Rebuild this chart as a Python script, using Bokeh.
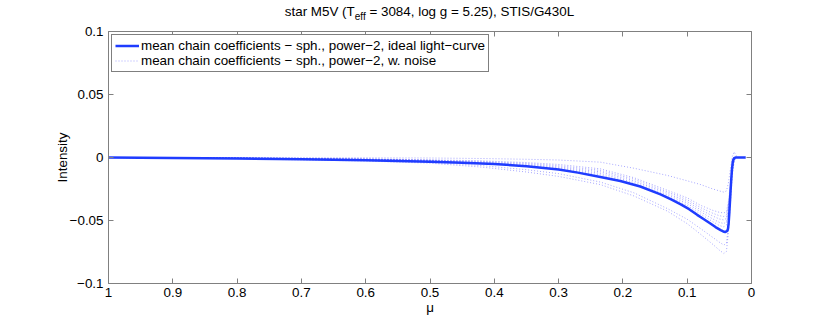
from bokeh.plotting import figure
from bokeh.layouts import column
from bokeh.models import Range1d, LinearAxis, FixedTicker, Legend, LegendItem, CustomJSTickFormatter, Div
from bokeh.embed import file_html
from bokeh.resources import INLINE

# ---- data ----
mu_main = [1.0, 0.9, 0.8, 0.7, 0.6, 0.5, 0.45, 0.4, 0.35, 0.3, 0.27, 0.235, 0.204,
           0.173, 0.1415, 0.125, 0.11, 0.097, 0.0845, 0.074, 0.064, 0.056, 0.048,
           0.044, 0.041, 0.038, 0.0365, 0.0355, 0.0345, 0.0335, 0.0325, 0.0315,
           0.0305, 0.0295, 0.0285, 0.027, 0.025, 0.02, 0.015, 0.009]
intensity_ideal = [0.0, -0.0003, -0.0008, -0.0014, -0.0022, -0.0033, -0.0041, -0.0052,
                   -0.0069, -0.0095, -0.0120, -0.0155, -0.0186, -0.0230, -0.0292,
                   -0.0333, -0.0372, -0.0410, -0.0455, -0.0490, -0.0524, -0.0552,
                   -0.0576, -0.0587, -0.0591, -0.0585, -0.0565, -0.0520, -0.0440,
                   -0.0350, -0.0260, -0.0175, -0.0100, -0.0050, -0.0020, -0.0005,
                   0.0, 0.0, 0.0, 0.0]

mu_noise = [1.0, 0.8, 0.6, 0.5, 0.42, 0.35, 0.3, 0.235, 0.183, 0.131, 0.1, 0.079, 0.06,
            0.05, 0.043, 0.039, 0.036, 0.033, 0.03, 0.027, 0.024, 0.02, 0.012]
noise_1 = [0.0, 0.0, -0.0002, -0.0004, -0.0008, -0.0014, -0.0020, -0.0037, -0.0085,
           -0.0142, -0.0185, -0.0215, -0.0250, -0.0265, -0.0275, -0.0265, -0.0205,
           -0.0100, 0.0005, 0.0045, 0.0015, 0.0, 0.0]
noise_2 = [0.0, -0.0010, -0.0028, -0.0045, -0.0076, -0.0115, -0.0150, -0.0215, -0.0305,
           -0.0425, -0.0525, -0.0610, -0.0690, -0.0735, -0.0762, -0.0745, -0.0600,
           -0.0380, -0.0150, -0.0030, 0.0, 0.0, 0.0]
noise_3 = [0.0, -0.0008, -0.0024, -0.0038, -0.0064, -0.0097, -0.0128, -0.0195, -0.0280,
           -0.0405, -0.0490, -0.0565, -0.0635, -0.0672, -0.0695, -0.0680, -0.0550,
           -0.0345, -0.0130, -0.0025, 0.0, 0.0, 0.0]
noise_4 = [0.0, -0.0003, -0.0010, -0.0018, -0.0026, -0.0040, -0.0055, -0.0090, -0.0160,
           -0.0260, -0.0320, -0.0380, -0.0420, -0.0435, -0.0440, -0.0430, -0.0350,
           -0.0220, -0.0080, -0.0015, 0.0, 0.0, 0.0]
noise_5 = [0.0, -0.0004, -0.0012, -0.0021, -0.0031, -0.0047, -0.0065, -0.0102, -0.0172,
           -0.0272, -0.0335, -0.0398, -0.0443, -0.0462, -0.0468, -0.0456, -0.0370,
           -0.0235, -0.0085, -0.0015, 0.0, 0.0, 0.0]
noise_6 = [0.0, -0.0004, -0.0013, -0.0023, -0.0036, -0.0054, -0.0074, -0.0114, -0.0185,
           -0.0284, -0.0350, -0.0415, -0.0465, -0.0488, -0.0496, -0.0483, -0.0392,
           -0.0250, -0.0090, -0.0018, 0.0, 0.0, 0.0]
noise_7 = [0.0, -0.0005, -0.0015, -0.0025, -0.0041, -0.0061, -0.0082, -0.0126, -0.0198,
           -0.0296, -0.0365, -0.0432, -0.0488, -0.0515, -0.0524, -0.0510, -0.0415,
           -0.0265, -0.0095, -0.0018, 0.0, 0.0, 0.0]
noise_8 = [0.0, -0.0005, -0.0016, -0.0027, -0.0046, -0.0068, -0.0090, -0.0138, -0.0210,
           -0.0308, -0.0380, -0.0450, -0.0510, -0.0540, -0.0550, -0.0536, -0.0435,
           -0.0280, -0.0100, -0.0020, 0.0, 0.0, 0.0]

x_ticks = [1.0, 0.9, 0.8, 0.7, 0.6, 0.5, 0.4, 0.3, 0.2, 0.1, 0.0]
x_tick_labels = ["1", "0.9", "0.8", "0.7", "0.6", "0.5", "0.4", "0.3", "0.2", "0.1", "0"]
y_ticks = [-0.1, -0.05, 0.0, 0.05, 0.1]
y_tick_labels = ["\u22120.1", "\u22120.05", "0", "0.05", "0.1"]

title_main = "star M5V (T"
title_sub = "eff"
title_rest = " = 3084, log g = 5.25), STIS/G430L"
label_ideal = "mean chain coefficients \u2212 sph., power\u22122, ideal light\u2212curve"
label_noise = "mean chain coefficients \u2212 sph., power\u22122, w. noise"

FONT = "Liberation Sans"
FS = "13.4px"
AXIS_COLOR = "#808080"
FRAME_W, FRAME_H = 643, 252
TITLE_H = 22

p = figure(frame_width=FRAME_W, frame_height=FRAME_H,
           x_range=Range1d(1, 0), y_range=Range1d(-0.1, 0.1),
           output_backend="svg", toolbar_location=None,
           min_border_left=108, min_border_right=71,
           min_border_top=31 - TITLE_H, min_border_bottom=34)
p.xgrid.visible = False
p.ygrid.visible = False
p.outline_line_color = None
p.background_fill_color = "white"
p.border_fill_color = "white"

def style_axis(ax, ticks, labels=None):
    ax.ticker = FixedTicker(ticks=ticks)
    ax.axis_line_color = AXIS_COLOR
    ax.major_tick_line_color = AXIS_COLOR
    ax.major_tick_in = 5
    ax.major_tick_out = 0
    ax.minor_tick_line_color = None
    ax.major_label_text_font = FONT
    ax.major_label_text_font_size = FS
    ax.major_label_text_color = "black"
    ax.axis_label_text_font = FONT
    ax.axis_label_text_font_size = FS
    ax.axis_label_text_font_style = "normal"
    ax.axis_label_text_color = "black"
    if labels is not None:
        ax.major_label_overrides = {t: l for t, l in zip(ticks, labels)}
    else:
        ax.formatter = CustomJSTickFormatter(code="return ''")
        ax.major_label_standoff = 0

xa = p.xaxis[0]
style_axis(xa, x_ticks, x_tick_labels)
xa.axis_label = "\u03bc"
xa.major_label_standoff = 4
xa.axis_label_standoff = 0

ya = p.yaxis[0]
style_axis(ya, y_ticks, y_tick_labels)
ya.axis_label = "Intensity"
ya.major_label_standoff = 5
ya.axis_label_standoff = -3

top = LinearAxis()
style_axis(top, x_ticks)
p.add_layout(top, "above")
right = LinearAxis()
style_axis(right, y_ticks)
p.add_layout(right, "right")

noise_renderers = []
for series in [noise_1, noise_2, noise_3, noise_4, noise_5, noise_6, noise_7, noise_8]:
    r = p.line(mu_noise, series, line_color="#0000ff", line_alpha=0.35,
               line_width=1, line_dash="1 2")
    noise_renderers.append(r)

main = p.line(mu_main, intensity_ideal, line_color="#1f3cff", line_width=2.5)

legend = Legend(items=[LegendItem(label=label_ideal, renderers=[main]),
                       LegendItem(label=label_noise, renderers=[noise_renderers[0]])],
                location="top_left")
legend.label_text_font = FONT
legend.label_text_font_size = FS
legend.label_text_color = "black"
legend.padding = 3
legend.spacing = 0
legend.margin = 3
legend.label_height = 13
legend.glyph_height = 13
legend.glyph_width = 24
legend.label_standoff = 2
legend.border_line_color = "black"
legend.border_line_width = 1
legend.background_fill_alpha = 1
p.add_layout(legend, "center")

# title (with a real subscript) as an HTML block centred over the plot frame
title_html = (f'<div style="width:{FRAME_W}px;font-family:\'{FONT}\';font-size:{FS};'
              f'color:black;text-align:center;line-height:16px;padding-top:4px;'
              f'white-space:nowrap;">'
              f'{title_main}<span style="font-size:10px;position:relative;top:4px;">'
              f'{title_sub}</span>{title_rest}</div>')
title = Div(text=title_html, width=FRAME_W, height=TITLE_H, margin=(0, 0, 0, 108),
            styles={"text-align": "center", "width": f"{FRAME_W}px"})

layout = column(title, p, spacing=0)

open("out.html", "w").write(file_html(layout, INLINE))
